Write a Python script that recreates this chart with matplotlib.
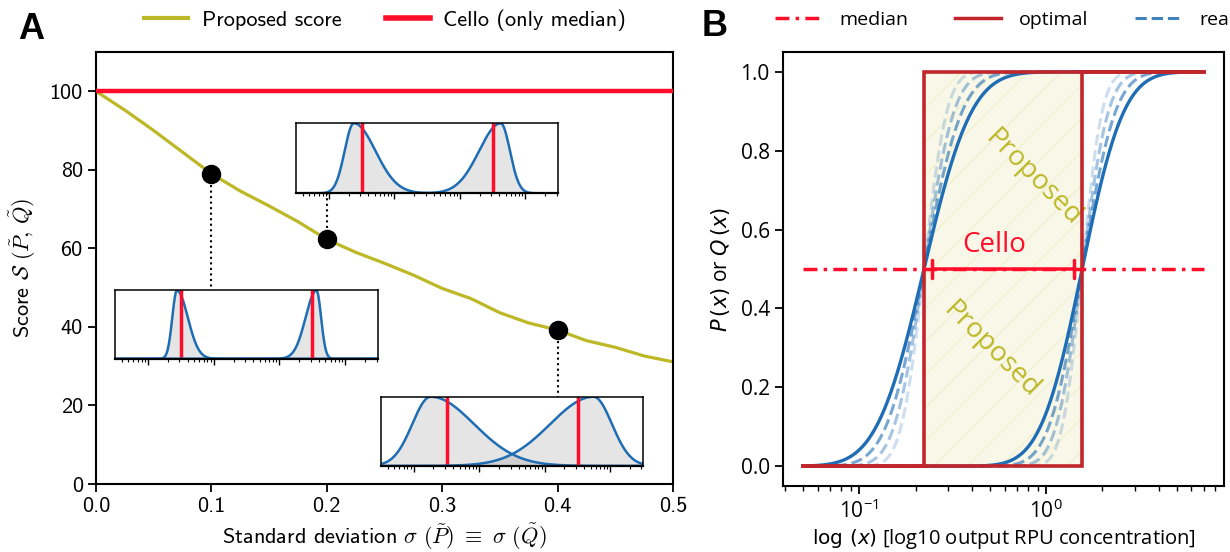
import numpy as np
import matplotlib
matplotlib.use("Agg")
import matplotlib.pyplot as plt
from matplotlib.lines import Line2D
from math import erf

# ---- panel A: score vs standard deviation
SIGMAS = [0.0, 0.025, 0.05, 0.075, 0.1, 0.125, 0.15, 0.175, 0.2, 0.225, 0.25,
          0.275, 0.3, 0.325, 0.35, 0.375, 0.4, 0.425, 0.45, 0.475, 0.5]
SCORES = [100.0, 95.2, 90.0, 84.5, 79.0, 74.6, 70.8, 66.8, 62.3, 59.0, 56.2,
          53.2, 49.8, 47.2, 43.6, 41.0, 39.2, 36.5, 34.8, 32.6, 31.1]
CELLO_SCORE = 100.0
HIGHLIGHT_SIGMAS = [0.1, 0.2, 0.4]
# inset distributions: log10 medians of the two states, skew of each side
INSET_MEDIANS = [-1.5, 0.5]
INSET_XLIM_LOG = [-2.5, 1.5]
SKEW_NARROW = 0.7
SKEW_WIDE = 1.65

# ---- panel B: cumulative distributions
X_RANGE = [0.05, 7.0]
MEDIAN_P = 0.222
MEDIAN_Q = 1.56
REAL_SIGMA_P = 0.20
REAL_SIGMA_Q = 0.175
SHARP_FACTORS = [0.8, 0.63, 0.48]
SHARP_ALPHAS = [0.6, 0.4, 0.22]

OLIVE = "#bcb826"
RED = "#ff0d2b"
DARKRED = "#c2262b"
BLUE = "#1f6db4"

plt.rcParams["font.family"] = ["Open Sans", "DejaVu Sans"]
plt.rcParams["mathtext.fontset"] = "dejavusans"
plt.rcParams["axes.linewidth"] = 1.5
plt.rcParams["hatch.linewidth"] = 0.8

W, H = 1230, 552
fig = plt.figure(figsize=(W / 100, H / 100), dpi=100)


def px_axes(left, top, right, bottom):
    return fig.add_axes([left / W, 1 - bottom / H, (right - left) / W, (bottom - top) / H])


def norm_cdf(z):
    return np.array([0.5 * (1 + erf(v / np.sqrt(2))) for v in z])


def split_density(u, median, s_left, s_right):
    # split gaussian in log10 space, shifted so that its median sits at `median`
    grid = np.linspace(-6, 6, 4001)
    g = np.where(grid < 0, np.exp(-grid**2 / (2 * s_left**2)), np.exp(-grid**2 / (2 * s_right**2)))
    cum = np.cumsum(g)
    cum /= cum[-1]
    shift = median - np.interp(0.5, cum, grid)
    v = u - shift
    return np.where(v < 0, np.exp(-v**2 / (2 * s_left**2)), np.exp(-v**2 / (2 * s_right**2)))


# ================= panel A
axA = px_axes(96, 52, 673, 484)
axA.plot(SIGMAS, SCORES, color=OLIVE, lw=2.3, zorder=2)
axA.plot([SIGMAS[0], SIGMAS[-1]], [CELLO_SCORE, CELLO_SCORE], color=RED, lw=3.2, zorder=3)
axA.set_xlim(0, 0.5)
axA.set_ylim(0, 110)
axA.set_xticks([0.0, 0.1, 0.2, 0.3, 0.4, 0.5])
axA.set_yticks([0, 20, 40, 60, 80, 100])
axA.tick_params(labelsize=16, labelfontfamily="cmss10", length=6, width=1.3)
axA.set_xlabel(r"Standard deviation $\sigma\ (\tilde{P})\ \equiv\ \sigma\ (\tilde{Q})$",
               fontsize=16, family="cmss10", math_fontfamily="cm", labelpad=4)
axA.set_ylabel(r"Score $\mathcal{S}\ (\tilde{P},\,\tilde{Q})$",
               fontsize=16, family="cmss10", math_fontfamily="cm", labelpad=8)

axA.legend([Line2D([], [], color=OLIVE, lw=3), Line2D([], [], color=RED, lw=4)],
           ["Proposed score", "Cello (only median)"], ncol=2, frameon=False,
           loc="center", bbox_to_anchor=(385 / W, 1 - 20 / H), bbox_transform=fig.transFigure,
           prop={"family": "cmss10", "size": 16}, handletextpad=0.6, columnspacing=2.0)

# insets: [x0, y0, w, h] in axes fraction, paired with the highlighted sigmas
INSET_BOXES = [[0.033, 0.290, 0.456, 0.158],
               [0.347, 0.673, 0.454, 0.162],
               [0.494, 0.042, 0.454, 0.160]]
u = np.linspace(INSET_XLIM_LOG[0], INSET_XLIM_LOG[1], 800)
ymax = axA.get_ylim()[1]
for sig, box in zip(HIGHLIGHT_SIGMAS, INSET_BOXES):
    score = np.interp(sig, SIGMAS, SCORES)
    axA.plot(sig, score, "o", color="black", ms=13, zorder=6)
    if box[1] * ymax > score:
        y_end = box[1] * ymax
    else:
        y_end = (box[1] + box[3]) * ymax
    axA.plot([sig, sig], [score, y_end], ":", color="black", lw=1.5, zorder=1)

    ins = axA.inset_axes(box)
    ins.set_xscale("log")
    d1 = split_density(u, INSET_MEDIANS[0], SKEW_NARROW * sig, SKEW_WIDE * sig)
    d2 = split_density(u, INSET_MEDIANS[1], SKEW_WIDE * sig, SKEW_NARROW * sig)
    x = 10**u
    for d, m in zip([d1, d2], INSET_MEDIANS):
        ins.fill_between(x, 0, d, color="gray", alpha=0.2, lw=0)
        ins.plot(x, d, color=BLUE, lw=1.8)
        ins.plot([10**m, 10**m], [0, 1], color=RED, lw=2.5)
    ins.set_xlim(10**INSET_XLIM_LOG[0], 10**INSET_XLIM_LOG[1])
    ins.set_ylim(0, 1.0)
    ins.set_yticks([])
    ins.tick_params(axis="x", which="major", length=4, width=1, labelbottom=False)
    ins.tick_params(axis="x", which="minor", length=2.5, width=0.8, labelbottom=False)
    for sp in ins.spines.values():
        sp.set_linewidth(1.1)
    ins.spines["bottom"].set_linewidth(1.6)

# ================= panel B
axB = px_axes(783, 52, 1224, 486)
xs = np.logspace(np.log10(X_RANGE[0]), np.log10(X_RANGE[1]), 600)
lx = np.log10(xs)

axB.fill_between([MEDIAN_P, MEDIAN_Q], 0, 1, facecolor=OLIVE, alpha=0.1, lw=0, zorder=0)
axB.fill_between([MEDIAN_P, MEDIAN_Q], 0, 1, facecolor="none", edgecolor=OLIVE, alpha=0.14,
                 hatch="/", lw=0, zorder=0)

for med, s in [(MEDIAN_P, REAL_SIGMA_P), (MEDIAN_Q, REAL_SIGMA_Q)]:
    for f, a in zip(SHARP_FACTORS, SHARP_ALPHAS):
        axB.plot(xs, norm_cdf((lx - np.log10(med)) / (s * f)), "--", color=BLUE, alpha=a, lw=2.2, zorder=2)
    axB.plot(xs, norm_cdf((lx - np.log10(med)) / s), color=BLUE, lw=2.4, zorder=3)

for med in [MEDIAN_P, MEDIAN_Q]:
    axB.plot([X_RANGE[0], med, med, X_RANGE[1]], [0, 0, 1, 1], color=DARKRED, lw=2.6,
             zorder=4, solid_joinstyle="miter")

axB.plot(X_RANGE, [0.5, 0.5], color=RED, lw=2.5, ls=(0, (4, 1.8, 1, 1.8)), zorder=5)
axB.annotate("", xy=(MEDIAN_Q, 0.5), xytext=(MEDIAN_P, 0.5),
             arrowprops=dict(arrowstyle="|-|,widthA=0.65,widthB=0.65", color=RED, lw=2.5,
                             shrinkA=6, shrinkB=6, mutation_scale=10), zorder=6)
axB.text(0.525, 0.561, "Cello", color=RED, fontsize=20, ha="center", va="center")
axB.text(0.851, 0.731, "Proposed", color=OLIVE, fontsize=20, rotation=-45,
         ha="center", va="center", rotation_mode="anchor")
axB.text(0.506, 0.295, "Proposed", color=OLIVE, fontsize=20, rotation=-45,
         ha="center", va="center", rotation_mode="anchor")

axB.set_xscale("log")
axB.set_yticks([0.0, 0.2, 0.4, 0.6, 0.8, 1.0])
axB.tick_params(labelsize=15, length=6, width=1.3)
axB.tick_params(which="minor", length=3.5, width=1)
axB.set_xlabel(r"$\log\,(x)$ [log10 output RPU concentration]", fontsize=14.5, labelpad=3)
axB.set_ylabel(r"$P\,(x)$ or $Q\,(x)$", fontsize=15, labelpad=6)

axB.legend([Line2D([], [], color=RED, lw=2.5, ls=(0, (4, 1.8, 1, 1.8))),
            Line2D([], [], color=DARKRED, lw=2.5),
            Line2D([], [], color=BLUE, lw=2.2, ls="--", alpha=0.85)],
           ["median", "optimal", "real"], ncol=3, frameon=False,
           loc="center left", bbox_to_anchor=(775 / W, 1 - 20 / H), bbox_transform=fig.transFigure,
           fontsize=14, handlelength=2.4, columnspacing=2.4, handletextpad=0.9,
           borderpad=0, borderaxespad=0)

fig.text(18 / W, 1 - 12 / H, "A", fontsize=26, fontweight="bold", family="Liberation Sans", va="top")
fig.text(702 / W, 1 - 9 / H, "B", fontsize=26, fontweight="bold", family="Liberation Sans", va="top")

fig.savefig("out.png", dpi=100)
